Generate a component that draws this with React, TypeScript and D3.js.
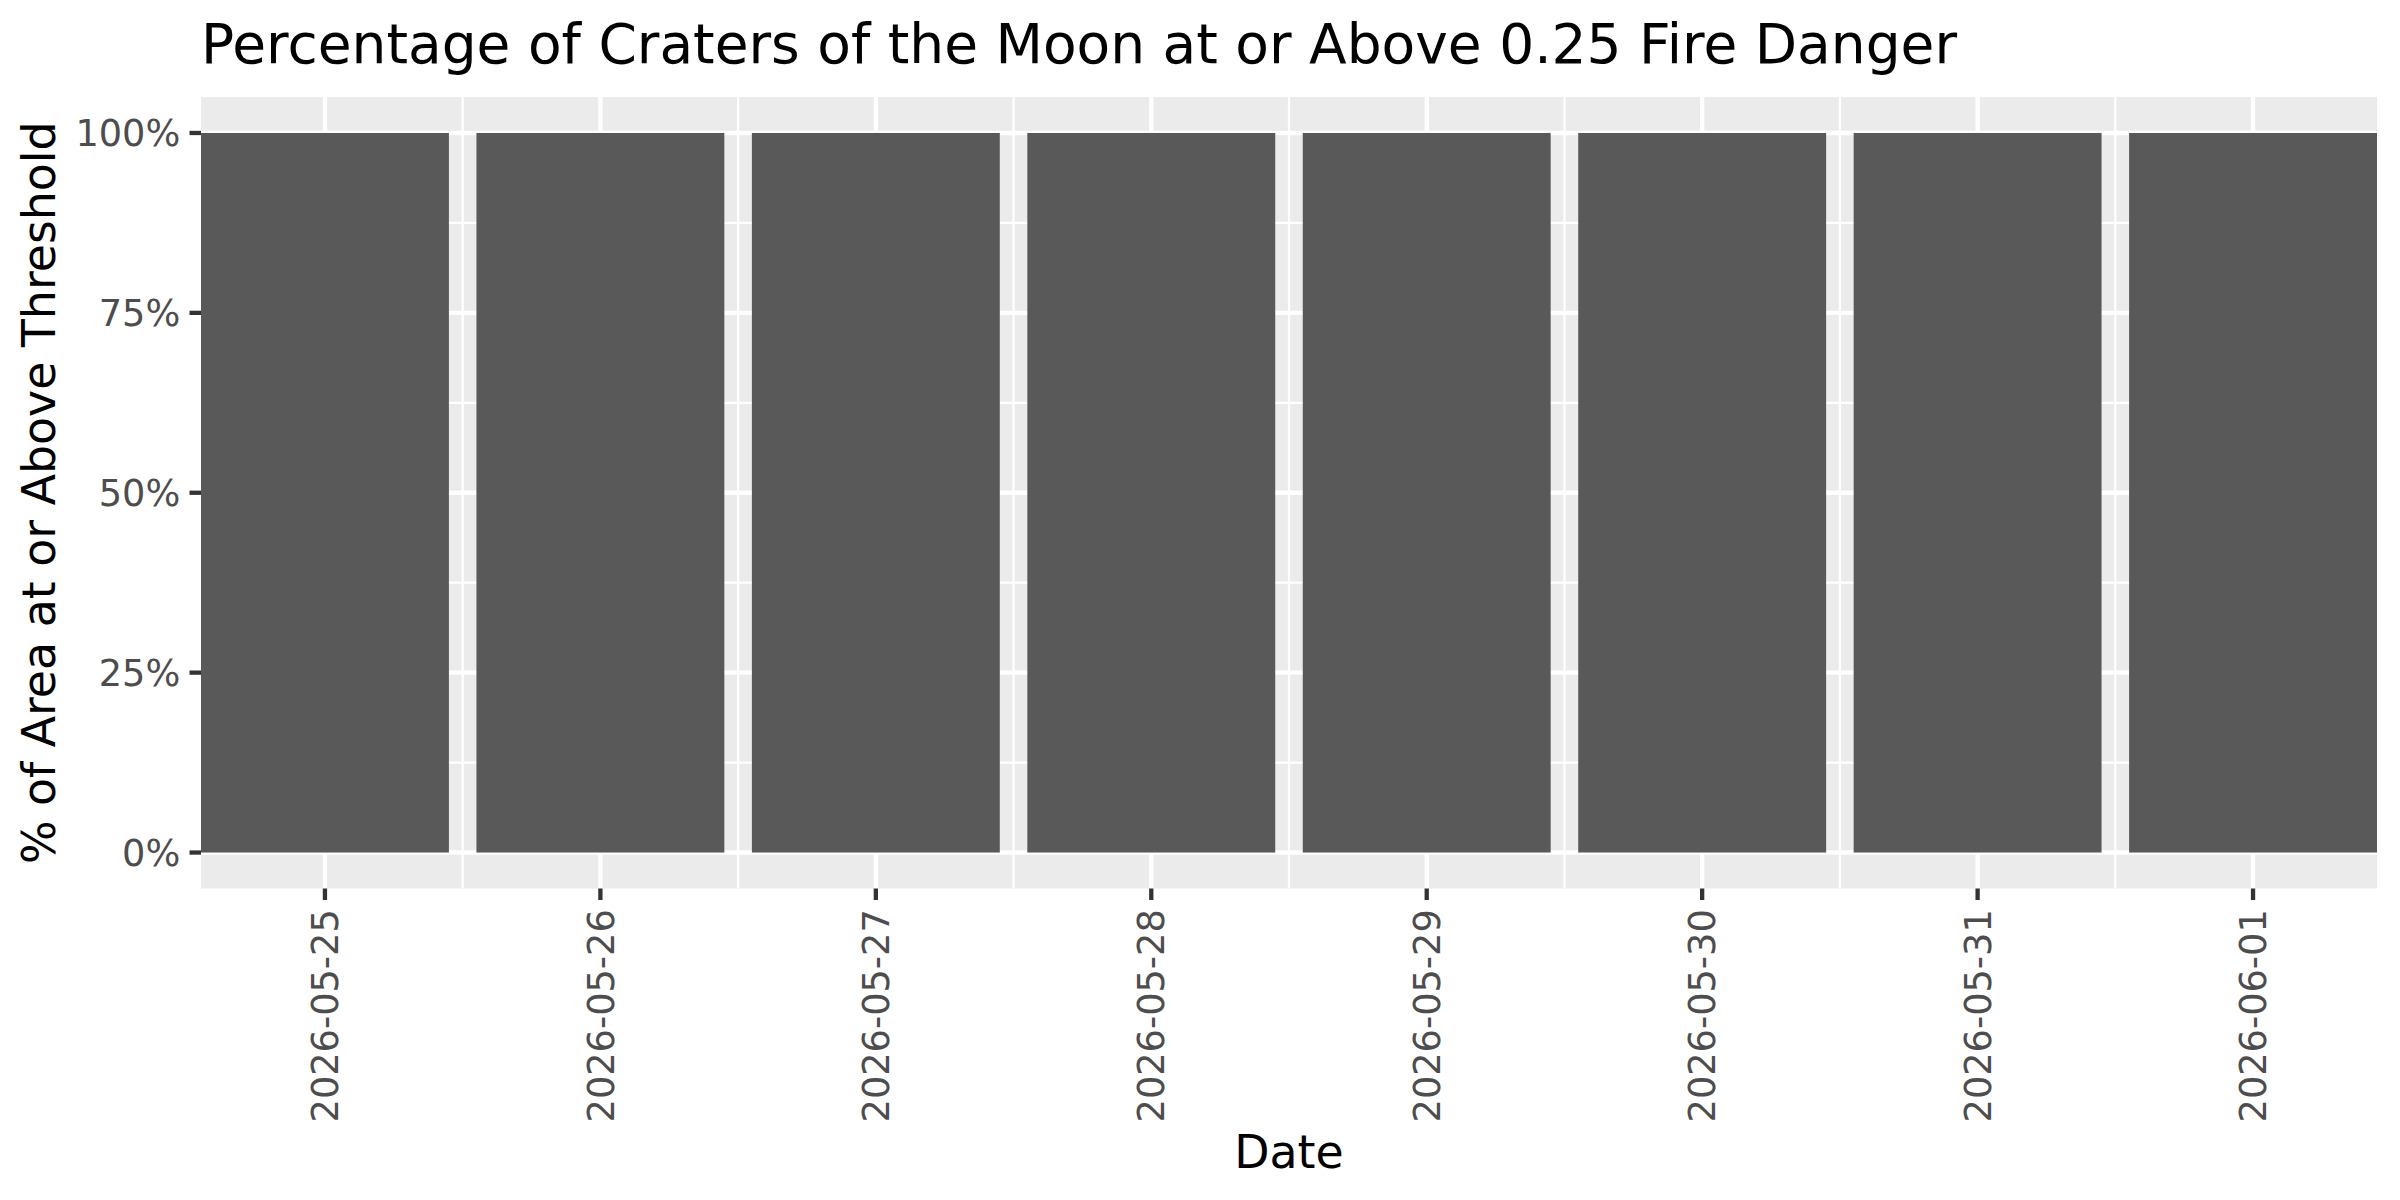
import React from "react";
import * as d3 from "d3";

const dates = [
  "2026-05-25",
  "2026-05-26",
  "2026-05-27",
  "2026-05-28",
  "2026-05-29",
  "2026-05-30",
  "2026-05-31",
  "2026-06-01",
];
const pctValues = [1, 1, 1, 1, 1, 1, 1, 1];
const yTicks = [0, 0.25, 0.5, 0.75, 1];
const yMinor = [0.125, 0.375, 0.625, 0.875];

const W = 2400;
const H = 1200;
const PL = 201;
const PR = 2377;
const PT = 97;
const PB = 888.5;
const FONT = "'DejaVu Sans', sans-serif";

export default function App() {
  const x = d3.scaleBand<string>().domain(dates).range([PL, PR]).paddingInner(0.1).paddingOuter(0);
  const y = d3.scaleLinear().domain([-0.05, 1.05]).range([PB, PT]);
  const fmt = d3.format(".0%");
  const step = x.step();
  const centers = dates.map((d) => (x(d) as number) + x.bandwidth() / 2);
  const mids = centers.slice(0, -1).map((c) => c + step / 2);

  return (
    <svg
      width={W}
      height={H}
      style={{ position: "absolute", left: 0, top: 0, display: "block", background: "#fff" }}
    >
      <rect x={0} y={0} width={W} height={H} fill="#fff" />
      <rect x={PL} y={PT} width={PR - PL} height={PB - PT} fill="#EBEBEB" />
      {/* minor grid */}
      {yMinor.map((v) => (
        <line key={"ym" + v} x1={PL} x2={PR} y1={y(v)} y2={y(v)} stroke="#fff" strokeWidth={2.2} />
      ))}
      {mids.map((m, i) => (
        <line key={"xm" + i} x1={m} x2={m} y1={PT} y2={PB} stroke="#fff" strokeWidth={2.2} />
      ))}
      {/* major grid */}
      {yTicks.map((v) => (
        <line key={"yM" + v} x1={PL} x2={PR} y1={y(v)} y2={y(v)} stroke="#fff" strokeWidth={4.3} />
      ))}
      {centers.map((c, i) => (
        <line key={"xM" + i} x1={c} x2={c} y1={PT} y2={PB} stroke="#fff" strokeWidth={4.3} />
      ))}
      {/* bars */}
      {dates.map((d, i) => (
        <rect
          key={d}
          x={x(d) as number}
          width={x.bandwidth()}
          y={y(pctValues[i])}
          height={y(0) - y(pctValues[i])}
          fill="#595959"
        />
      ))}
      {/* y axis */}
      {yTicks.map((v) => (
        <g key={"yt" + v}>
          <line x1={PL - 11.5} x2={PL} y1={y(v)} y2={y(v)} stroke="#333333" strokeWidth={4.3} />
          <text
            x={PL - 11.5 - 9.2}
            y={y(v)}
            dy="0.36em"
            textAnchor="end"
            fontFamily={FONT}
            fontSize={36.7}
            fill="#4D4D4D"
          >
            {fmt(v)}
          </text>
        </g>
      ))}
      {/* x axis */}
      {dates.map((d, i) => (
        <g key={"xt" + d}>
          <line x1={centers[i]} x2={centers[i]} y1={PB} y2={PB + 11.5} stroke="#333333" strokeWidth={4.3} />
          <text
            transform={`translate(${centers[i]},${PB + 11.5 + 9.2}) rotate(-90)`}
            dy="0.36em"
            textAnchor="end"
            fontFamily={FONT}
            fontSize={36.7}
            fill="#4D4D4D"
          >
            {d}
          </text>
        </g>
      ))}
      {/* titles */}
      <text x={PL} y={63} fontFamily={FONT} fontSize={55} fill="#000">
        Percentage of Craters of the Moon at or Above 0.25 Fire Danger
      </text>
      <text x={(PL + PR) / 2} y={1168} textAnchor="middle" fontFamily={FONT} fontSize={45.8} fill="#000">
        Date
      </text>
      <text
        transform={`translate(55,${(PT + PB) / 2}) rotate(-90)`}
        textAnchor="middle"
        fontFamily={FONT}
        fontSize={45.8}
        fill="#000"
      >
        % of Area at or Above Threshold
      </text>
    </svg>
  );
}
